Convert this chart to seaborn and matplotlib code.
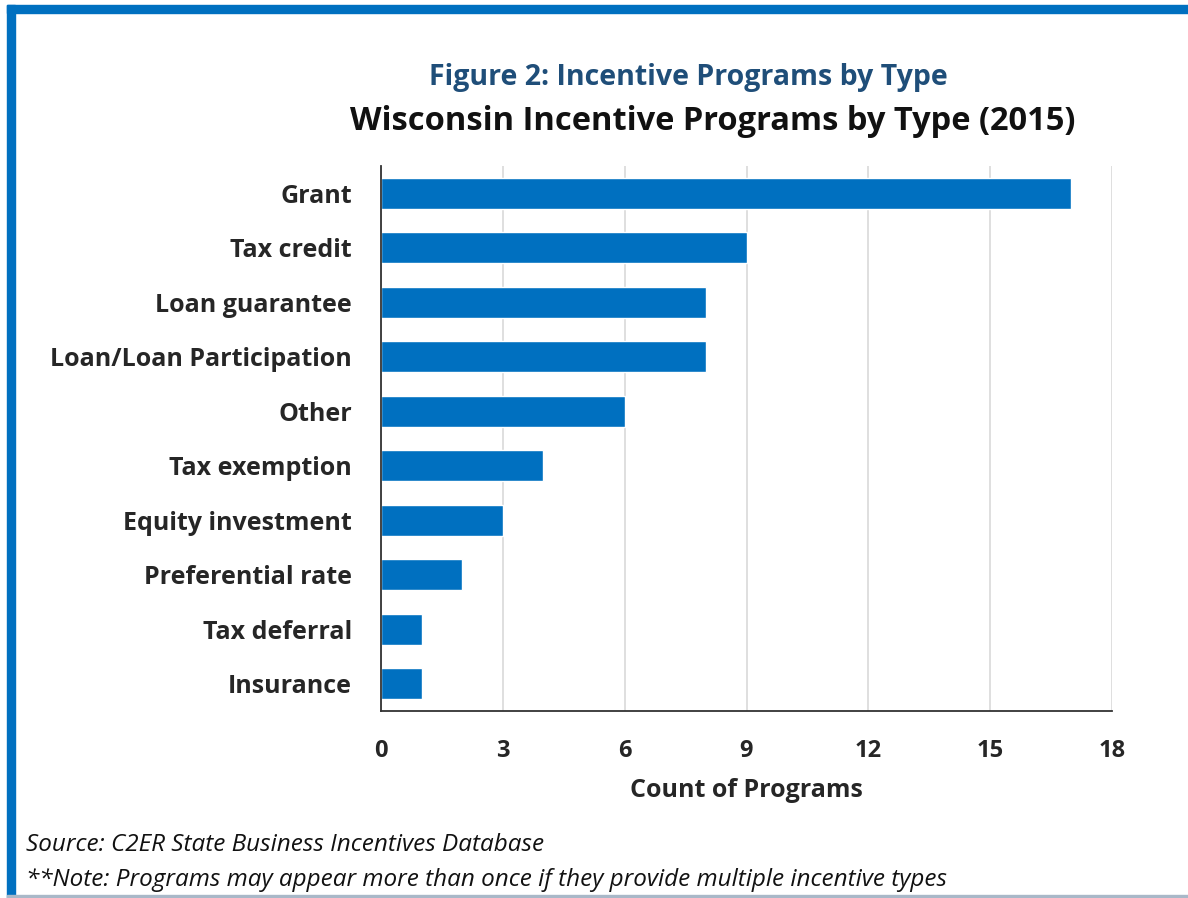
import matplotlib
matplotlib.use("Agg")
import matplotlib.pyplot as plt
import seaborn as sns
import pandas as pd
from matplotlib.patches import Rectangle

categories = ["Grant", "Tax credit", "Loan guarantee", "Loan/Loan Participation", "Other",
              "Tax exemption", "Equity investment", "Preferential rate", "Tax deferral", "Insurance"]
counts = [17, 9, 8, 8, 6, 4, 3, 2, 1, 1]
xticks = [0, 3, 6, 9, 12, 15, 18]

sns.set_theme(style="white")
plt.rcParams['font.family'] = ['Open Sans', 'DejaVu Sans']

df = pd.DataFrame({"Type": categories, "Count": counts})

fig = plt.figure(figsize=(11.88, 8.98), dpi=100)
W, H = 1188, 898
ax = fig.add_axes([381 / W, 1 - 711 / H, (1112 - 381) / W, (711 - 166) / H])

sns.barplot(data=df, x="Count", y="Type", color="#0070C0", saturation=1, width=0.57,
            orient="h", ax=ax)

ax.set_xlim(0, 18)
ax.set_xticks(xticks)
ax.set_xticklabels([str(t) for t in xticks], fontsize=17, fontweight="bold")
ax.tick_params(axis="x", pad=20, length=0)
ax.tick_params(axis="y", pad=21, length=0)
for lab in ax.get_yticklabels():
    lab.set_fontsize(18)
    lab.set_fontweight("bold")
ax.set_ylabel("")
ax.set_xlabel("Count of Programs", fontsize=18, fontweight="bold", labelpad=11)
ax.grid(axis="x", color="#D9D9D9", linewidth=1.2)
ax.set_axisbelow(True)
for s in ["top", "right"]:
    ax.spines[s].set_visible(False)
ax.spines["left"].set_color("#333333")
ax.spines["bottom"].set_color("#333333")
ax.spines["left"].set_linewidth(1.3)
ax.spines["bottom"].set_linewidth(1.3)

fig.text(688 / W, 1 - 78 / H, "Figure 2: Incentive Programs by Type", ha="center", va="center",
         fontsize=20.5, fontweight="bold", color="#1F4E79")
fig.text(713 / W, 1 - 122 / H, "Wisconsin Incentive Programs by Type (2015)", ha="center", va="center",
         fontsize=23.5, fontweight="bold", color="#111111")

fig.text(26 / W, 1 - 845 / H, "Source: C2ER State Business Incentives Database", ha="left", va="center",
         fontsize=17.5, style="italic", color="#111111")
fig.text(26 / W, 1 - 880 / H, "**Note: Programs may appear more than once if they provide multiple incentive types",
         ha="left", va="center", fontsize=17.5, style="italic", color="#111111")

# frame
fig.patches.append(Rectangle((7 / W, 0), 8 / W, 1 - 5 / H, transform=fig.transFigure,
                             color="#0070C0", zorder=5))
fig.patches.append(Rectangle((7 / W, 1 - 13 / H), 1 - 7 / W, 8 / H, transform=fig.transFigure,
                             color="#0070C0", zorder=5))
fig.patches.append(Rectangle((7 / W, 0), 1 - 7 / W, 3 / H, transform=fig.transFigure,
                             color="#A9B8C8", zorder=5))

fig.savefig("out.png", dpi=100)
